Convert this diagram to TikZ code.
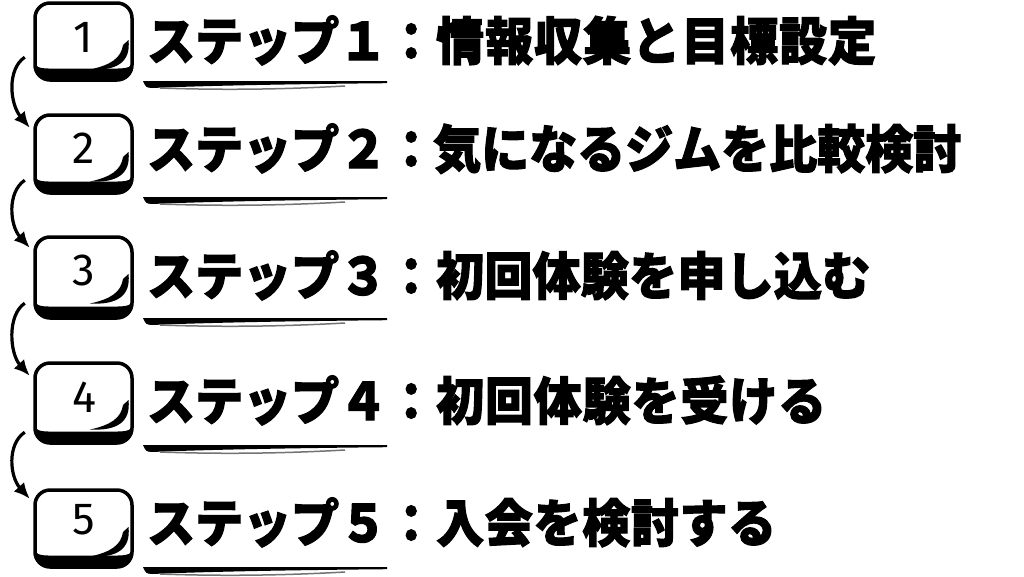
\documentclass[tikz,border=0pt]{standalone}
\usepackage{fontspec}
\usepackage{graphicx}
\usetikzlibrary{arrows.meta,calc}
\newfontfamily\jp{Noto Sans CJK JP Black}[FakeBold=2.2]
\newfontfamily\digitfont{Fira Sans}
\newcommand\tall[1]{\scalebox{1}[1.07]{#1}}
\tikzset{
  keynode/.style={minimum width=97pt, inner sep=0pt, draw=none},
  digit/.style={font=\digitfont\fontsize{45}{45}\selectfont, inner sep=0pt},
  title/.style={font=\jp\fontsize{48}{48}\selectfont, anchor=base west, inner sep=0pt},
  flow/.style={line width=3.2pt, -{Latex[length=16pt,width=14pt]}},
}
\newcommand\keyshape[2]{%
  \draw[line width=3.5pt, rounded corners=15pt] (35,#1) rectangle (132,#2);
  \fill (35,#2-16) .. controls (36,#2-2) and (45,#2+1.5) .. (56,#2+1.5) -- (112,#2+1.5)
     .. controls (124,#2+1.5) and (132,#2-3) .. (132.5,#2-16)
     .. controls (129,#2-11) and (121,#2-11.5) .. (110,#2-11.5) -- (56,#2-11.5)
     .. controls (45,#2-11.5) and (38,#2-11) .. (35,#2-16) -- cycle;
  \fill (128.5,#1+37) .. controls (131,#1+59) and (117,#1+68) .. (90,#1+66.5)
     .. controls (111,#1+62) and (121,#1+55) .. (123,#1+42) -- cycle;
}
\newcommand\underl[1]{%
  \fill (143,#1) -- (387,#1) -- (387,#1+2.2) .. controls (300,#1+3) and (210,#1+4.5) .. (152,#1+7)
     .. controls (146,#1+6.5) .. (143,#1) -- cycle;
  \draw[black!55, line width=1.5pt] (160,#1+7) .. controls (230,#1+9.5) and (290,#1+8) .. (345,#1+5);
}
\begin{document}
\begin{tikzpicture}[x=1pt,y=-1pt]
\fill[white] (0,0) rectangle (1024,576);
\useasboundingbox (0,0) rectangle (1024,576);

% keys
\keyshape{3}{80}
\keyshape{115}{193}
\keyshape{237}{318}
\keyshape{363}{443}
\keyshape{490}{567}
\node[keynode, minimum height=77pt] (k1) at (83.5,41.5) {};
\node[keynode, minimum height=78pt] (k2) at (83.5,154) {};
\node[keynode, minimum height=81pt] (k3) at (83.5,277.5) {};
\node[keynode, minimum height=80pt] (k4) at (83.5,403) {};
\node[keynode, minimum height=77pt] (k5) at (83.5,528.5) {};
\node[digit] (n1) at (83,37.5) {1};
\node[digit] (n2) at (84,148) {2};
\node[digit] (n3) at (84,270) {3};
\node[digit] (n4) at (84,397) {4};
\node[digit] (n5) at (84,520) {5};

% arrows
\draw[flow] ([shift={(-10,-23)}]k1.south west) .. controls +(-18,12) and +(-20,-24) .. ([shift={(-5,13)}]k2.north west);
\draw[flow] ([shift={(-10,-13)}]k2.south west) .. controls +(-18,12) and +(-20,-22) .. ([shift={(-5,11)}]k3.north west);
\draw[flow] ([shift={(-10,-15)}]k3.south west) .. controls +(-18,12) and +(-20,-22) .. ([shift={(-5,13)}]k4.north west);
\draw[flow] ([shift={(-10,-11)}]k4.south west) .. controls +(-18,12) and +(-20,-22) .. ([shift={(-5,9)}]k5.north west);

% titles
\node[title] (t1) at (147,60) {\tall{ステップ１：}};
\node[title] (t2) at (147,168) {\tall{ステップ２：}};
\node[title] (t3) at (147,295) {\tall{ステップ３：}};
\node[title] (t4) at (147,420) {\tall{ステップ４：}};
\node[title] (t5) at (147,542) {\tall{ステップ５：}};
\node[title] (d1) at (436,60) {\tall{\hbox to 440pt{情\hfil 報\hfil 収\hfil 集\hfil と\hfil 目\hfil 標\hfil 設\hfil 定}}};
\node[title] (d2) at (433,168) {\tall{気になるジムを比較検討}};
\node[title] (d3) at (436,295) {\tall{\hbox to 434pt{初\hfil 回\hfil 体\hfil 験\hfil を\hfil 申\hfil し\hfil 込\hfil む}}};
\node[title] (d4) at (436,420) {\tall{\hbox to 390pt{初\hfil 回\hfil 体\hfil 験\hfil を\hfil 受\hfil け\hfil る}}};
\node[title] (d5) at (436,542) {\tall{\hbox to 340pt{入\hfil 会\hfil を\hfil 検\hfil 討\hfil す\hfil る}}};

% underlines
\underl{81}
\underl{197}
\underl{318}
\underl{445}
\underl{567}
\end{tikzpicture}
\end{document}
